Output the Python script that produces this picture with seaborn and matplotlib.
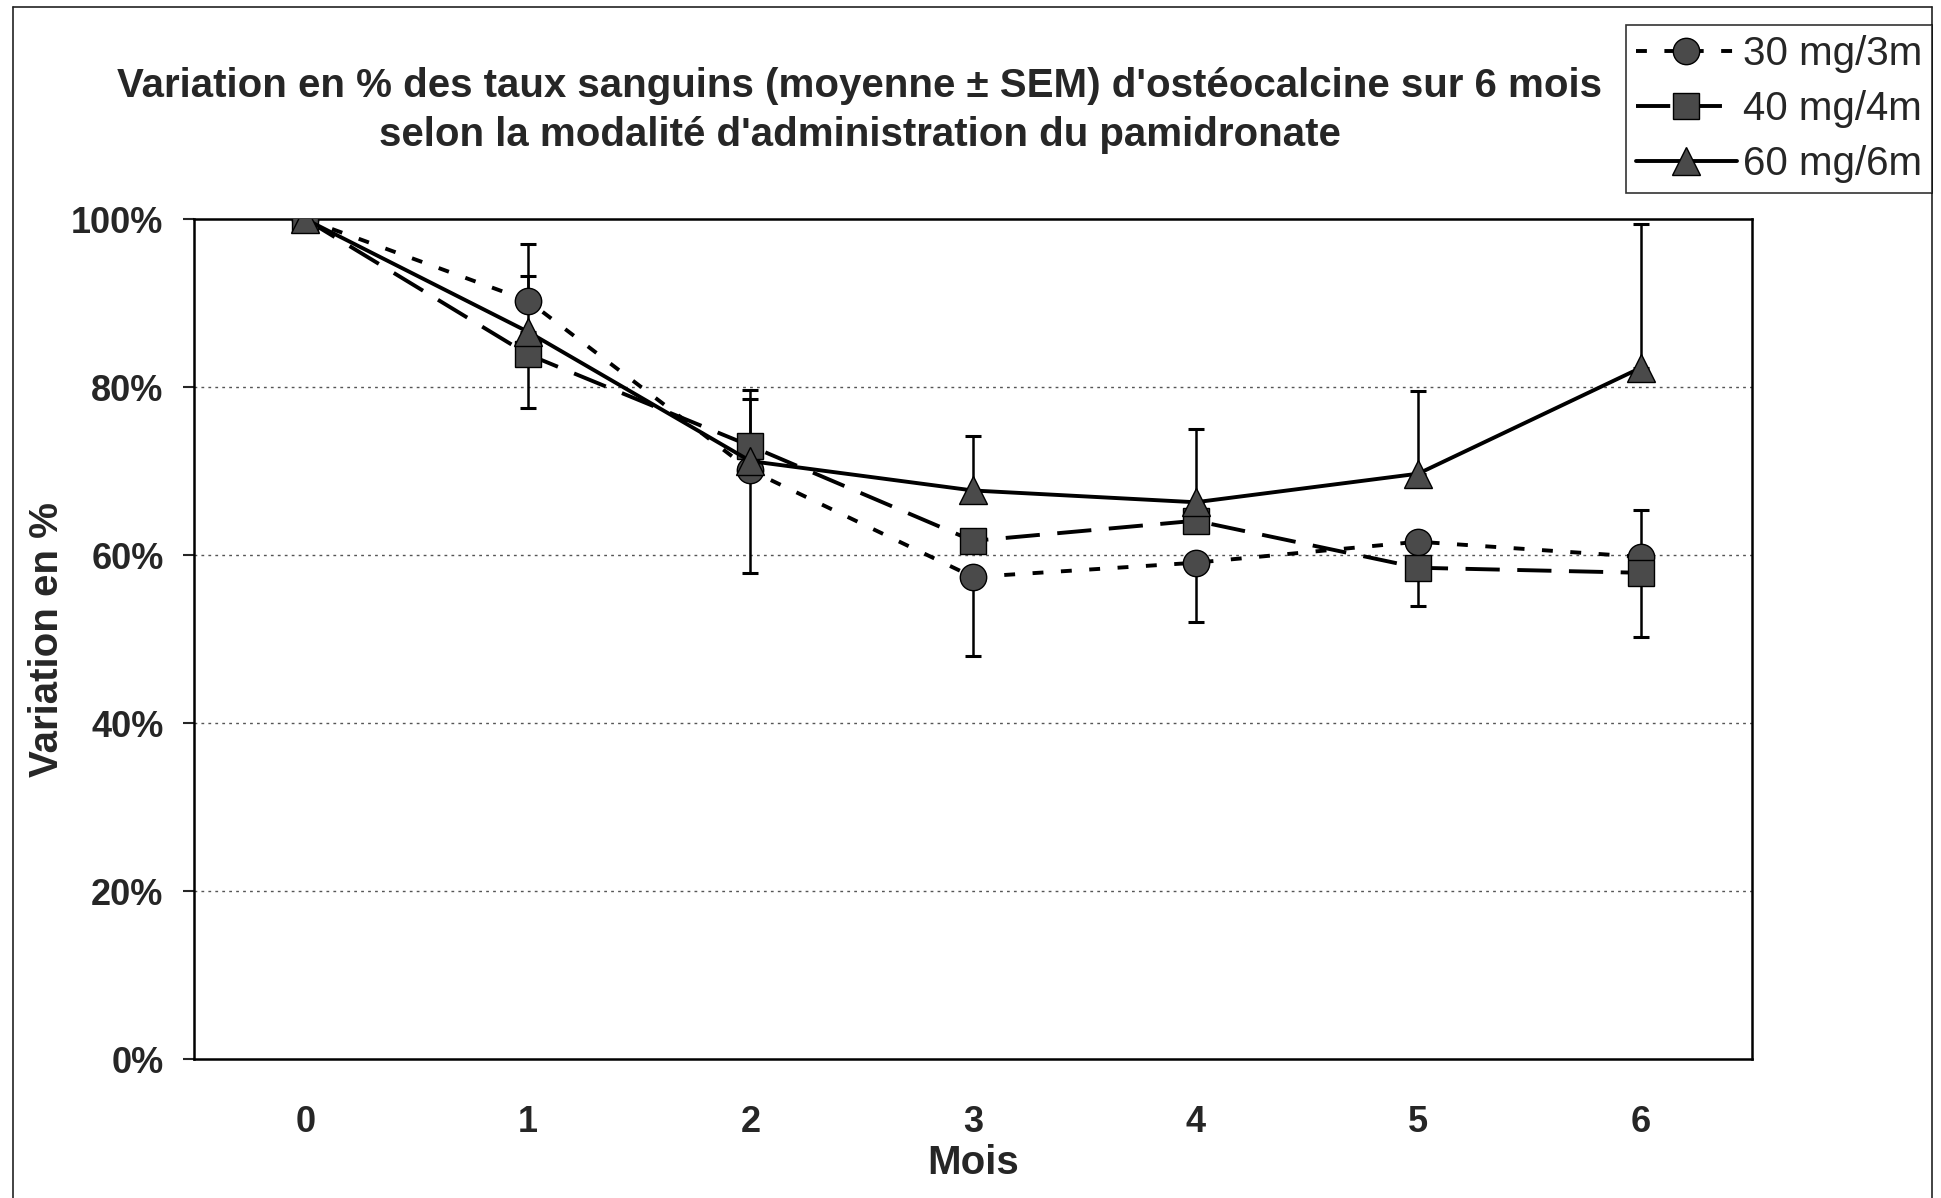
import matplotlib
matplotlib.use("Agg")
import matplotlib.pyplot as plt
from matplotlib.lines import Line2D
import seaborn as sns
import pandas as pd
import numpy as np

months = [0, 1, 2, 3, 4, 5, 6]
series_names = ["30 mg/3m", "40 mg/4m", "60 mg/6m"]
v30 = [100, 90.3, 70.1, 57.4, 59.1, 61.6, 59.8]
v40 = [100, 83.9, 73.0, 61.7, 64.1, 58.5, 57.9]
v60 = [100, 86.6, 71.2, 67.7, 66.3, 69.7, 82.3]
# visible error bar extents (upper / lower, in % points)
up30 = [0, 6.8, 0, 0, 0, 0, 0]
lo30 = [0, 0, 12.2, 9.4, 7.1, 7.7, 9.6]
up40 = [0, 0, 6.7, 0, 0, 0, 7.5]
lo40 = [0, 6.4, 0, 0, 0, 0, 0]
up60 = [0, 6.7, 7.4, 6.5, 8.7, 9.8, 17.1]
lo60 = [0, 0, 0, 0, 0, 0, 0]
yticks = [0, 20, 40, 60, 80, 100]
ytick_labels = ["0%", "20%", "40%", "60%", "80%", "100%"]

sns.set_style("white")
plt.rcParams['font.family'] = ['Liberation Sans', 'DejaVu Sans']

fig = plt.figure(figsize=(19.41, 11.98), dpi=100)
ax = fig.add_axes([0.100, 0.116, 0.8026, 0.701])

df = pd.DataFrame({
    "Mois": months * 3,
    "val": v30 + v40 + v60,
    "serie": [series_names[0]] * 7 + [series_names[1]] * 7 + [series_names[2]] * 7,
})

styles = {
    series_names[0]: dict(ls=(0, (2.8, 4.5)), marker="o", ms=19),
    series_names[1]: dict(ls=(0, (8.8, 4.5)), marker="s", ms=19),
    series_names[2]: dict(ls="-", marker="^", ms=20),
}
mcol = "#4a4a4a"
errs = {series_names[0]: (lo30, up30), series_names[1]: (lo40, up40), series_names[2]: (lo60, up60)}
vals = {series_names[0]: v30, series_names[1]: v40, series_names[2]: v60}

for name in series_names:
    lo, up = errs[name]
    ax.errorbar(months, vals[name], yerr=[lo, up], fmt="none", ecolor="black",
                elinewidth=1.8, capsize=6, capthick=2.2, zorder=2)

for name in series_names:
    st = styles[name]
    sub = df[df["serie"] == name]
    sns.lineplot(data=sub, x="Mois", y="val", ax=ax, color="black",
                 linestyle=st["ls"], linewidth=2.8, marker=st["marker"],
                 markersize=st["ms"], markerfacecolor=mcol, markeredgecolor="black",
                 markeredgewidth=1.0, label=name, zorder=3, legend=False)

ax.set_xlim(-0.5, 6.5)
ax.set_ylim(0, 100)
ax.set_yticks(yticks)
ax.set_yticklabels(ytick_labels, fontsize=26, fontweight="bold")
ax.set_xticks(months)
ax.set_xticklabels([str(m) for m in months], fontsize=26, fontweight="bold")
ax.tick_params(axis="y", direction="out", length=8, width=1.5, pad=14, left=True)
ax.tick_params(axis="x", length=0, pad=33)
for y in [20, 40, 60, 80]:
    ax.axhline(y, color="#555555", linestyle=(0, (2, 3)), linewidth=1.0, zorder=1)
for s in ax.spines.values():
    s.set_visible(True)
    s.set_color("black")
    s.set_linewidth(1.8)

ax.set_xlabel("Mois", fontsize=29, fontweight="bold", labelpad=3)
ax.set_ylabel("Variation en %", fontsize=29, fontweight="bold", labelpad=4)

fig.text(0.443, 0.928, "Variation en % des taux sanguins (moyenne ± SEM) d'ostéocalcine sur 6 mois",
         ha="center", va="center", fontsize=29, fontweight="bold")
fig.text(0.443, 0.887, "selon la modalité d'administration du pamidronate",
         ha="center", va="center", fontsize=29, fontweight="bold")

handles, labels = ax.get_legend_handles_labels()
leg = fig.legend(handles, labels, loc="upper right", bbox_to_anchor=(0.9954, 0.979),
                 fontsize=29, frameon=True, fancybox=False, edgecolor="black",
                 handlelength=2.5, handletextpad=0.15, borderpad=0.25, labelspacing=0.42,
                 borderaxespad=0)
leg.get_frame().set_linewidth(1.2)

# chart-area border (left, top, right)
fx0, fy1, fx1 = 13 / 1941, 1 - 7 / 1198, 1932 / 1941
fig.add_artist(Line2D([fx0, fx0], [0, fy1], transform=fig.transFigure, color="#222222", lw=1.2))
fig.add_artist(Line2D([fx0, fx1], [fy1, fy1], transform=fig.transFigure, color="#222222", lw=1.2))
fig.add_artist(Line2D([fx1, fx1], [0, fy1], transform=fig.transFigure, color="#222222", lw=1.2))

fig.savefig("out.png", dpi=100, facecolor="white")
